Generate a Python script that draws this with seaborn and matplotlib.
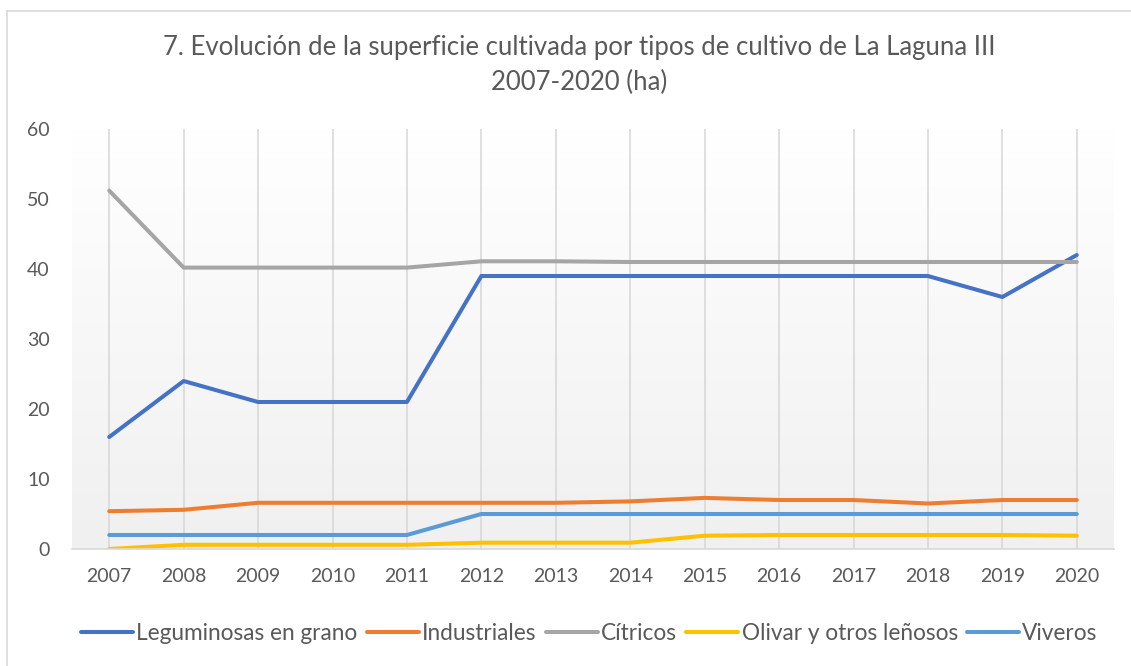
import matplotlib
matplotlib.use("Agg")

import matplotlib.pyplot as plt
import numpy as np
import pandas as pd
import seaborn as sns
from matplotlib.lines import Line2D

# --------------------------------------------------------------------------- #
# Data (ha)
# --------------------------------------------------------------------------- #
YEARS = list(range(2007, 2021))
LEGUMINOSAS = [16, 24, 21, 21, 21, 39, 39, 39, 39, 39, 39, 39, 36, 42]
INDUSTRIALES = [5.4, 5.6, 6.6, 6.6, 6.6, 6.6, 6.6, 6.8, 7.3, 7.0, 7.0, 6.5, 7.0, 7.0]
CITRICOS = [51.2, 40.2, 40.2, 40.2, 40.2, 41.1, 41.1, 41.0, 41.0, 41.0, 41.0, 41.0, 41.0, 41.0]
OLIVAR = [0.0, 0.6, 0.6, 0.6, 0.6, 0.9, 0.9, 0.9, 1.9, 2.0, 2.0, 2.0, 2.0, 1.9]
VIVEROS = [2, 2, 2, 2, 2, 5, 5, 5, 5, 5, 5, 5, 5, 5]

SERIES = {
    "Leguminosas en grano": LEGUMINOSAS,
    "Industriales": INDUSTRIALES,
    "Cítricos": CITRICOS,
    "Olivar y otros leñosos": OLIVAR,
    "Viveros": VIVEROS,
}
PALETTE = {
    "Leguminosas en grano": "#4472C4",
    "Industriales": "#ED7D31",
    "Cítricos": "#A5A5A5",
    "Olivar y otros leñosos": "#FFC000",
    "Viveros": "#5B9BD5",
}
TITLE = "7. Evolución de la superficie cultivada por tipos de cultivo de La Laguna III\n2007-2020 (ha)"
TEXT = "#595959"

sns.set_theme(style="white")
plt.rcParams["font.family"] = ["Lato", "DejaVu Sans"]

df = pd.DataFrame(
    [(y, name, v) for name, vals in SERIES.items() for y, v in zip(YEARS, vals)],
    columns=["Año", "Cultivo", "ha"],
)

fig = plt.figure(figsize=(11.31, 6.66), dpi=100)
ax = fig.add_axes([72 / 1131, 1 - 549 / 666, (1114 - 72) / 1131, (549 - 129) / 666])

# gradient background: white at top to light gray at bottom
grad = np.linspace(0, 1, 256).reshape(-1, 1)
ax.imshow(grad, extent=(2006.5, 2020.5, 0, 60), aspect="auto", origin="upper",
          cmap=matplotlib.colors.LinearSegmentedColormap.from_list(
              "bg", ["#ffffff", "#f0f0f0"]), zorder=0)

for yr in YEARS:
    ax.axvline(yr, color="#d9d9d9", lw=1.2, zorder=1)

sns.lineplot(data=df, x="Año", y="ha", hue="Cultivo", palette=PALETTE,
             hue_order=list(SERIES), lw=2.9, ax=ax, legend=False, zorder=3,
             solid_capstyle="round")

ax.set_xlim(2006.5, 2020.5)
ax.set_ylim(0, 60)
ax.set_xticks(YEARS)
ax.set_xticklabels([str(y) for y in YEARS])
ax.set_yticks(range(0, 61, 10))
ax.tick_params(axis="both", length=0, labelsize=14, colors=TEXT)
ax.tick_params(axis="x", pad=14)
ax.tick_params(axis="y", pad=16)
ax.set_xlabel("")
ax.set_ylabel("")
for side in ("top", "right", "left"):
    ax.spines[side].set_visible(False)
ax.spines["bottom"].set_color("#d9d9d9")
ax.spines["bottom"].set_linewidth(1.2)
ax.spines["bottom"].set_zorder(4)

fig.text(0.512, 1 - 65 / 666, TITLE, ha="center", va="center", fontsize=18.5,
         color=TEXT, linespacing=1.45)

handles = [Line2D([0], [0], color=PALETTE[n], lw=2.9) for n in SERIES]
fig.legend(handles, list(SERIES), loc="center", bbox_to_anchor=(0.521, 1 - 633 / 666),
           ncol=5, frameon=False, fontsize=16.3, handlelength=2.3,
           handletextpad=0.15, columnspacing=0.4, labelcolor=TEXT)

# chart border (light gray), as in the source
fig.add_artist(Line2D([7 / 1131, 1], [1 - 11 / 666, 1 - 11 / 666],
                      color="#d9d9d9", lw=1.2, transform=fig.transFigure))
fig.add_artist(Line2D([7 / 1131, 7 / 1131], [0, 1 - 11 / 666],
                      color="#d9d9d9", lw=1.2, transform=fig.transFigure))

fig.savefig("out.png", dpi=100)
